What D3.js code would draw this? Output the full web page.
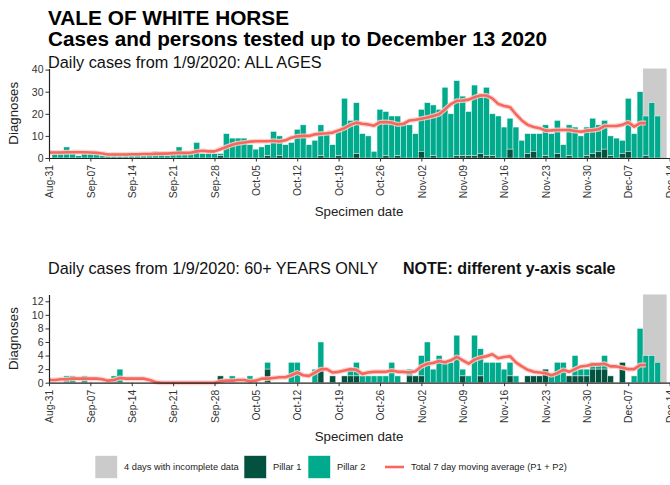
<!DOCTYPE html>
<html>
<head>
<meta charset="utf-8">
<script src="https://cdn.jsdelivr.net/npm/d3@7"></script>
<style>
  html, body { margin: 0; padding: 0; background: #fff; }
  svg { display: block; font-family: "Liberation Sans", Arial, sans-serif; }
</style>
</head>
<body>
<svg id="chart" width="670" height="485"></svg>
<script>
// First day on the date axis (Aug-31 2020); bars start the following day.
const axisStart = "2020-08-31";
const barStartOffset = 1;            // first bar = 1 Sep 2020
const incompleteDays = 4;            // last four specimen days are incomplete

// ---- ALL AGES: daily diagnoses, 1 Sep .. 13 Dec ----
const allPillar1 = [
  0,0,0,0,0,0,0,0,0,0,
  0,0,0,0,0,0,0,0,0,0,
  0,0,0,0,0,0,0,0,1,0,
  0,0,0,0,0,0,1,0,1,0,
  0,0,0,0,0,1,0,0,1,0,
  0,2,0,0,0,0,1,0,1,0,
  0,0,3,0,1,0,0,0,1,1,
  1,1,2,1,1,0,0,4,0,0,
  2,3,0,1,0,2,0,1,0,0,
  1,2,3,4,1,0,2,3,0,0,
  1,0,0,0
];
const allPillar2 = [
  2,3,5,2,1,2,2,3,1,1,
  2,1,2,1,2,1,2,3,2,1,
  2,5,2,2,7,2,2,2,1,11,
  9,9,9,6,4,5,5,12,9,6,
  7,13,15,6,8,14,11,6,11,27,
  17,23,11,10,3,22,20,19,18,16,
  15,11,19,25,23,22,32,20,34,27,
  20,32,27,31,19,19,14,14,14,8,
  9,8,11,14,11,15,6,14,14,10,
  13,16,12,13,9,9,6,24,11,30,
  18,25,19,0
];
// 7-day moving average (P1 + P2), 31 Aug .. 10 Dec
const allMovingAvg = [
  2.5,2.5,2.5,2.6,2.6,2.6,2.6,2.5,2.4,2.0,
  1.6,1.6,1.6,1.6,1.7,1.7,1.8,1.8,1.9,2.0,
  2.0,2.2,2.3,2.3,2.4,3.0,3.3,3.0,3.0,4.0,
  5.0,6.0,6.7,7.0,7.4,7.6,7.6,7.6,7.8,7.5,
  8.0,9.2,9.8,10.0,10.0,10.7,11.0,11.2,11.5,12.5,
  13.5,15.0,16.0,15.5,15.2,14.6,16.2,16.3,16.0,15.2,
  15.5,17.0,17.3,17.8,18.3,19.0,19.8,22.0,24.4,25.9,
  26.0,26.4,27.5,28.3,28.3,27.0,24.5,23.5,23.0,19.8,
  17.0,15.0,14.0,13.5,12.4,12.5,12.7,12.7,12.7,12.2,
  11.9,12.4,12.6,13.0,14.5,14.5,14.5,15.0,16.2,14.2,
  15.8,15.8
];

// ---- 60+ YEARS ONLY ----
const oldPillar1 = [
  0,0,0,0,0,0,0,0,0,0,
  0,0,0,0,0,0,0,0,0,0,
  0,0,0,0,0,0,0,0,1,0,
  0,0,0,0,0,0,2,0,0,0,
  0,0,0,0,0,2,0,1,0,1,
  1,1,0,0,0,0,0,0,0,0,
  1,1,1,0,0,0,0,0,0,1,
  0,0,1,0,0,0,0,1,0,0,
  1,1,1,2,0,0,0,1,1,1,
  1,2,2,2,1,0,3,0,0,0,
  0,0,0,0
];
const oldPillar2 = [
  0,0,1,1,0,1,0,0,0,0,
  1,2,0,0,0,0,0,0,0,0,
  0,0,0,0,0,0,0,0,0,0,
  1,0,0,1,0,0,1,0,0,0,
  3,3,0,0,2,4,0,0,0,0,
  1,2,1,1,1,1,1,3,1,0,
  1,0,3,6,2,4,3,3,7,1,
  1,7,4,3,3,3,2,2,1,0,
  0,0,0,0,1,3,3,0,3,1,
  1,1,1,2,0,0,0,0,1,8,
  4,4,3,0
];
const oldMovingAvg = [
  0.4,0.4,0.5,0.5,0.6,0.6,0.6,0.6,0.6,0.5,
  0.3,0.4,0.7,0.6,0.6,0.6,0.6,0.4,0.1,0,
  0,0,0,0,0,0,0,0,0,0.2,
  0.3,0.3,0.4,0.4,0.2,0.3,0.6,0.6,0.7,0.8,
  0.8,1.1,1.5,1.1,1.0,1.5,2.0,2.0,1.5,1.6,
  1.8,2.0,1.9,1.3,1.5,1.6,1.6,1.6,1.8,1.6,
  1.6,1.5,1.7,2.4,2.8,2.9,3.2,3.0,3.3,3.8,
  3.3,2.8,3.4,3.7,3.9,4.2,3.6,3.8,3.9,3.0,
  2.4,1.9,1.6,1.5,1.4,1.1,1.4,1.9,1.6,2.0,
  2.4,2.5,2.7,2.7,2.8,2.4,2.4,2.2,2.0,2.0,
  2.6,2.6
];

const allTicks = [0, 10, 20, 30, 40];
const oldTicks = [0, 2, 4, 6, 8, 10, 12];

const legendLabels = ["4 days with incomplete data", "Pillar 1", "Pillar 2",
                      "Total 7 day moving average (P1 + P2)"];

// ---- styling ----
const COL_P1 = "#03513f";
const COL_P2 = "#00ab8d";
const COL_GREY = "#cbcbcb";
const COL_LINE = "#f6675d";
const TEXT = "#333";

const svg = d3.select("#chart");
svg.append("rect").attr("width", 670).attr("height", 485).attr("fill", "#fff");

const t0 = d3.utcParse("%Y-%m-%d")(axisStart);
const day = i => d3.utcDay.offset(t0, i);
const nBars = allPillar2.length;
const lastDay = barStartOffset + nBars; // one step past the last bar (Dec-14)

const x = d3.scaleUtc().domain([day(0), day(lastDay)]).range([49, 669.6]);
const step = x(day(1)) - x(day(0));
const weekTicks = d3.range(0, lastDay + 1, 7).map(day);

// titles
svg.append("text").attr("x", 48).attr("y", 25)
  .attr("font-size", 20.8).attr("font-weight", "bold").attr("fill", "#000")
  .text("VALE OF WHITE HORSE");
svg.append("text").attr("x", 48).attr("y", 46)
  .attr("font-size", 20.7).attr("font-weight", "bold").attr("fill", "#000")
  .text("Cases and persons tested up to December 13 2020");

function panel(opts) {
  const { p1, p2, ma, top, bottom, yMax, ticks } = opts;
  const y = d3.scaleLinear().domain([0, yMax]).range([bottom, top]);
  const g = svg.append("g");

  // incomplete-data band
  const firstInc = barStartOffset + nBars - incompleteDays;
  g.append("rect")
    .attr("x", x(day(firstInc)) - step / 2)
    .attr("width", step * incompleteDays)
    .attr("y", y(yMax)).attr("height", y(0) - y(yMax))
    .attr("fill", COL_GREY);

  const rows = p1.map((v, i) => ({ d: day(barStartOffset + i), p1: v, p2: p2[i] }));

  // Pillar 2 stacked above Pillar 1
  g.append("g").selectAll("rect").data(rows.filter(r => r.p2 > 0)).join("rect")
    .attr("x", r => x(r.d) - step / 2).attr("width", step)
    .attr("y", r => y(r.p1 + r.p2)).attr("height", r => y(r.p1) - y(r.p1 + r.p2))
    .attr("fill", COL_P2).attr("stroke", "#e6f6f2").attr("stroke-width", 0.5);
  g.append("g").selectAll("rect").data(rows.filter(r => r.p1 > 0)).join("rect")
    .attr("x", r => x(r.d) - step / 2).attr("width", step)
    .attr("y", r => y(r.p1)).attr("height", r => y(0) - y(r.p1))
    .attr("fill", COL_P1).attr("stroke", "#dfeeea").attr("stroke-width", 0.5);

  // moving average
  const line = d3.line().x((v, i) => x(day(i))).y(v => y(v));
  g.append("path").datum(ma).attr("d", line)
    .attr("fill", "none").attr("stroke", "#fbd0cc").attr("stroke-width", 5)
    .attr("stroke-linejoin", "round").attr("opacity", 0.85);
  g.append("path").datum(ma).attr("d", line)
    .attr("fill", "none").attr("stroke", COL_LINE).attr("stroke-width", 2.6)
    .attr("stroke-linejoin", "round");

  // y axis
  const ya = g.append("g").attr("transform", `translate(${x(day(0))},0)`)
    .call(d3.axisLeft(y).tickValues(ticks).tickSize(3.5).tickSizeOuter(0).tickPadding(2));
  ya.select(".domain").attr("stroke", "#222").attr("stroke-width", 1.2);
  ya.selectAll(".tick line").attr("stroke", "#333");
  ya.selectAll("text").attr("font-size", 10.5).attr("fill", TEXT)
    .attr("font-family", "Liberation Sans, Arial, sans-serif");

  // x axis
  const xa = g.append("g").attr("transform", `translate(0,${y(0)})`)
    .call(d3.axisBottom(x).tickValues(weekTicks).tickFormat(d3.utcFormat("%b-%d"))
      .tickSize(3.5).tickSizeOuter(0));
  xa.select(".domain").attr("stroke", "#222").attr("stroke-width", 1.2);
  xa.selectAll(".tick line").attr("stroke", "#333");
  xa.selectAll("text")
    .attr("font-size", 10.3).attr("fill", TEXT)
    .attr("font-family", "Liberation Sans, Arial, sans-serif")
    .attr("transform", "rotate(-90)")
    .attr("x", -7).attr("y", 0).attr("dy", "0.36em")
    .style("text-anchor", "end");

  // axis titles
  svg.append("text")
    .attr("transform", `translate(18,${(top + bottom) / 2}) rotate(-90)`)
    .attr("text-anchor", "middle").attr("font-size", 13.3).attr("fill", "#222")
    .text("Diagnoses");
  svg.append("text").attr("x", 359).attr("y", bottom + 58)
    .attr("text-anchor", "middle").attr("font-size", 13.3).attr("fill", "#222")
    .text("Specimen date");
}

// panel 1: all ages
svg.append("text").attr("x", 48).attr("y", 68).attr("font-size", 16.3).attr("fill", "#111")
  .text("Daily cases from 1/9/2020: ALL AGES");
panel({ p1: allPillar1, p2: allPillar2, ma: allMovingAvg,
        top: 68.5, bottom: 158, yMax: 40.5, ticks: allTicks });

// panel 2: 60+ years
svg.append("text").attr("x", 48).attr("y", 274).attr("font-size", 16.2).attr("fill", "#111")
  .text("Daily cases from 1/9/2020: 60+ YEARS ONLY");
svg.append("text").attr("x", 403).attr("y", 274).attr("font-size", 16)
  .attr("font-weight", "bold").attr("fill", "#111")
  .text("NOTE: different y-axis scale");
panel({ p1: oldPillar1, p2: oldPillar2, ma: oldMovingAvg,
        top: 294.5, bottom: 382.7, yMax: 13, ticks: oldTicks });

// legend
const lg = svg.append("g").attr("font-size", 9.3).attr("fill", "#222");
const ly = 467;
const keys = [
  { kind: "rect", fill: COL_GREY, x: 95, tx: 124 },
  { kind: "rect", fill: COL_P1, x: 244, tx: 273 },
  { kind: "rect", fill: COL_P2, x: 308, tx: 337 },
  { kind: "line", fill: COL_LINE, x: 385, tx: 411 }
];
keys.forEach((k, i) => {
  if (k.kind === "rect") {
    lg.append("rect").attr("x", k.x).attr("y", ly - 11.5).attr("width", 22.5).attr("height", 23)
      .attr("fill", k.fill).attr("stroke", "#fff").attr("stroke-width", 0.6);
  } else {
    lg.append("line").attr("x1", k.x).attr("x2", k.x + 19).attr("y1", ly).attr("y2", ly)
      .attr("stroke", k.fill).attr("stroke-width", 2.6);
  }
  lg.append("text").attr("x", k.tx).attr("y", ly).attr("dy", "0.35em").text(legendLabels[i]);
});
</script>
</body>
</html>
